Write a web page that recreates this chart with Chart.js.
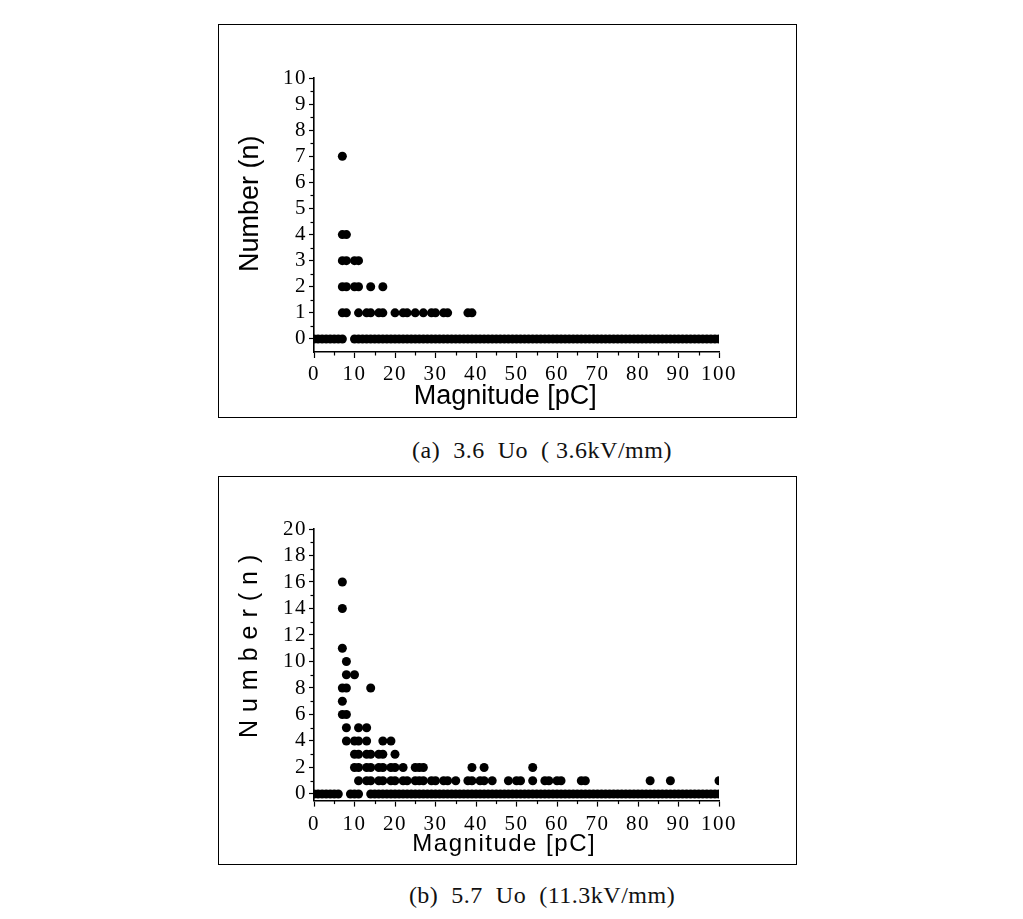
<!DOCTYPE html>
<html><head><meta charset="utf-8">
<script src="https://cdn.jsdelivr.net/npm/chart.js@4/dist/chart.umd.min.js"></script>
<style>
html,body{margin:0;padding:0;background:#fff;}
body{width:1023px;height:919px;position:relative;overflow:hidden;}
.box{position:absolute;border:1px solid #000;background:#fff;}
.box canvas{display:block;}
.cap{position:absolute;left:242px;width:600px;text-align:center;font-family:"Liberation Serif",serif;font-size:24px;letter-spacing:0.5px;white-space:pre;color:#111;line-height:28px;}
</style></head><body>
<div class="box" style="left:218px;top:24px;width:577px;height:392px;"><canvas id="chartA" width="577" height="392"></canvas></div>
<div class="cap" style="top:436px;">(a)  3.6  Uo  ( 3.6kV/mm)</div>
<div class="box" style="left:218px;top:476px;width:577px;height:387px;"><canvas id="chartB" width="577" height="387"></canvas></div>
<div class="cap" style="top:881px;">(b)  5.7  Uo  (11.3kV/mm)</div>
<script>
// ---- axis ticks ----
const xTicks = [0,10,20,30,40,50,60,70,80,90,100];
const xMinor = [5,15,25,35,45,55,65,75,85,95];
const yTicksA = [0,1,2,3,4,5,6,7,8,9,10];
const yMinorA = [0.5,1.5,2.5,3.5,4.5,5.5,6.5,7.5,8.5,9.5];
const yTicksB = [0,2,4,6,8,10,12,14,16,18,20];
const yMinorB = [1,3,5,7,9,11,13,15,17,19];

// ---- (a) 3.6 Uo : magnitudes [pC] at each count ----
const A_n0 = [0,1,2,3,4,5,6,7,10,11,12,13,14,15,16,17,18,19,20,21,22,23,24,25,26,27,28,29,30,31,32,33,34,35,36,37,38,39,40,41,42,43,44,45,46,47,48,49,50,51,52,53,54,55,56,57,58,59,60,61,62,63,64,65,66,67,68,69,70,71,72,73,74,75,76,77,78,79,80,81,82,83,84,85,86,87,88,89,90,91,92,93,94,95,96,97,98,99,100];
const A_n1 = [7,8,11,13,14,16,17,20,22,23,25,27,29,30,32,33,38,39];
const A_n2 = [7,8,10,11,14,17];
const A_n3 = [7,8,10,11];
const A_n4 = [7,8];
const A_n7 = [7];

// ---- (b) 5.7 Uo ----
const B_n0 = [0,1,2,3,4,5,6,9,10,11,14,15,16,17,18,19,20,21,22,23,24,25,26,27,28,29,30,31,32,33,34,35,36,37,38,39,40,41,42,43,44,45,46,47,48,49,50,51,52,53,54,55,56,57,58,59,60,61,62,63,64,65,66,67,68,69,70,71,72,73,74,75,76,77,78,79,80,81,82,83,84,85,86,87,88,89,90,91,92,93,94,95,96,97,98,99,100];
const B_n1 = [11,13,14,16,17,19,20,22,23,25,26,27,29,30,32,33,35,38,39,41,42,44,48,50,51,54,57,58,60,61,66,67,83,88,100];
const B_n2 = [10,11,13,14,16,17,19,20,22,25,26,27,39,42,54];
const B_n3 = [10,11,13,14,16,17,20];
const B_n4 = [8,10,11,13,17,19];
const B_n5 = [8,11,13];
const B_n6 = [7,8];
const B_n7 = [7];
const B_n8 = [7,8,14];
const B_n9 = [8,10];
const B_n10 = [8];
const B_n11 = [7];
const B_n14 = [7];
const B_n16 = [7];

function pts(groups){
  const out = [];
  groups.forEach(([xs, n]) => xs.forEach(x => out.push({x: x, y: n})));
  return out;
}
const dataA = pts([[A_n0,0],[A_n1,1],[A_n2,2],[A_n3,3],[A_n4,4],[A_n7,7]]);
const dataB = pts([[B_n0,0],[B_n1,1],[B_n2,2],[B_n3,3],[B_n4,4],[B_n5,5],[B_n6,6],[B_n7,7],[B_n8,8],[B_n9,9],[B_n10,10],[B_n11,11],[B_n14,14],[B_n16,16]]);

const minorTicks = {
  id: 'minorTicks',
  afterDraw(chart, args, o) {
    const ctx = chart.ctx, xs = chart.scales.x, ys = chart.scales.y, a = chart.chartArea;
    ctx.save();
    ctx.strokeStyle = '#000'; ctx.lineWidth = 1.2;
    o.xMinor.forEach(v => { const p = Math.round(xs.getPixelForValue(v)) + 0.5; ctx.beginPath(); ctx.moveTo(p, a.bottom); ctx.lineTo(p, a.bottom + 3.5); ctx.stroke(); });
    o.yMinor.forEach(v => { const p = Math.round(ys.getPixelForValue(v)) + 0.5; ctx.beginPath(); ctx.moveTo(a.left, p); ctx.lineTo(a.left - 3.5, p); ctx.stroke(); });
    ctx.restore();
  }
};
// letter spacing: "before" applies to layers drawn under the data, "after" to layers drawn over it
const spacing = {
  id: 'spacing',
  beforeDraw(chart, args, o) { chart.ctx.letterSpacing = o.before; },
  afterDatasetsDraw(chart, args, o) { chart.ctx.letterSpacing = o.after; },
  afterDraw(chart) { chart.ctx.letterSpacing = '0px'; }
};

function build(id, data, c) {
  new Chart(document.getElementById(id), {
    type: 'scatter',
    data: { datasets: [{ data: data, pointRadius: 4.5, pointHoverRadius: 4.5, pointBackgroundColor: '#000', pointBorderWidth: 0, borderColor: '#000', showLine: false, clip: 0 }] },
    options: {
      responsive: false, animation: false, events: [],
      layout: { padding: { left: 0, right: c.padR, top: c.padT, bottom: 0 } },
      plugins: { legend: { display: false }, tooltip: { enabled: false },
        minorTicks: { xMinor: xMinor, yMinor: c.yMinor },
        spacing: { before: c.before, after: c.after } },
      scales: {
        x: {
          type: 'linear', position: 'bottom', min: 0, max: 100,
          afterBuildTicks: s => { s.ticks = xTicks.map(v => ({ value: v })); },
          afterFit: s => { s.height = c.xH; },
          grid: { drawOnChartArea: false, drawTicks: true, tickLength: 6, color: '#000', tickColor: '#000', tickWidth: 1.2, z: c.xGridZ },
          border: { display: true, color: '#000', width: 1.6, z: c.xGridZ },
          ticks: { color: '#000', font: { family: 'Liberation Serif', size: 21 }, padding: c.xPad, maxRotation: 0, autoSkip: false, z: 1 },
          title: { display: true, text: c.xTitle, color: '#000', font: { family: 'Liberation Sans', size: c.xTitleSize }, padding: { top: 0, bottom: c.xTitlePad } }
        },
        y: {
          type: 'linear', position: 'left', min: -0.5, max: c.yMax,
          afterBuildTicks: s => { s.ticks = c.yTicks.map(v => ({ value: v })); },
          afterFit: s => { s.width = 95; },
          grid: { drawOnChartArea: false, drawTicks: true, tickLength: 5, color: '#000', tickColor: '#000', tickWidth: 1.2 },
          border: { display: true, color: '#000', width: 1.6 },
          ticks: { color: '#000', font: { family: 'Liberation Serif', size: 21 }, padding: 2, autoSkip: false, z: 1 },
          title: { display: true, text: c.yTitle, color: '#000', font: { family: 'Liberation Sans', size: c.yTitleSize }, padding: { top: c.yTitlePad, bottom: 0 } }
        }
      }
    },
    plugins: [minorTicks, spacing]
  });
}

build('chartA', dataA, {
  padR: 77, padT: 53, xH: 65, yMax: 10, yTicks: yTicksA, yMinor: yMinorA,
  xTitle: 'Magnitude [pC]   ', yTitle: '   Number (n)', xTitleSize: 27, yTitleSize: 27,
  xTitlePad: 4, yTitlePad: 15, xPad: 4, xGridZ: -1, before: '0px', after: '1.5px'
});
build('chartB', dataB, {
  padR: 77, padT: 52, xH: 63.4, yMax: 20, yTicks: yTicksB, yMinor: yMinorB,
  xTitle: 'Magnitude [pC]   ', yTitle: '   Number(n)', xTitleSize: 24, yTitleSize: 25,
  xTitlePad: 5, yTitlePad: 16, xPad: 5, xGridZ: 1, before: '8px', after: '1.5px'
});
</script>
</body></html>
